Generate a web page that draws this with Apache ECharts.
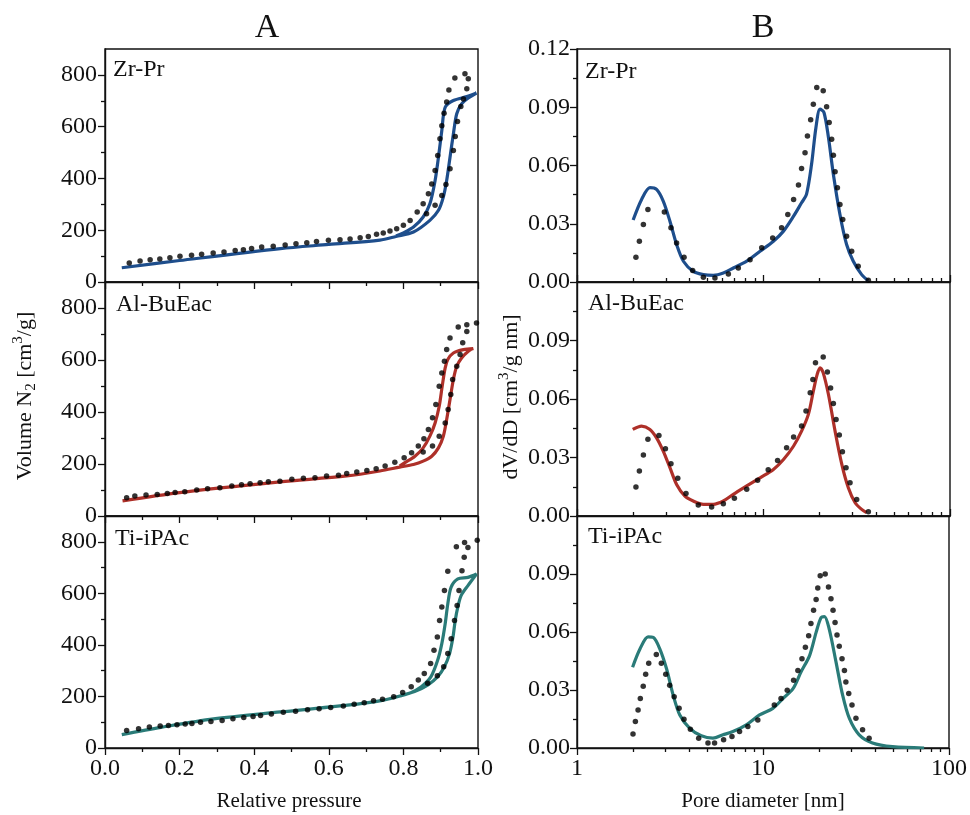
<!DOCTYPE html>
<html>
<head>
<meta charset="utf-8">
<script src="https://cdn.jsdelivr.net/npm/echarts@6/dist/echarts.min.js"></script>
<style>
  html, body { margin: 0; padding: 0; background: #ffffff; }
  #chart { width: 970px; height: 815px; }
</style>
</head>
<body>
<div id="chart"></div>
<script>
// ---- samples ----
const sampleNames = ['Zr-Pr', 'Al-BuEac', 'Ti-iPAc'];

// ---- tick values ----
const pressureTicks = [0, 0.2, 0.4, 0.6, 0.8, 1.0];
const pressureMinorTicks = [0.1, 0.3, 0.5, 0.7, 0.9];
const volumeTicks = [0, 200, 400, 600, 800];
const volumeMinorTicks = [100, 300, 500, 700];
const diameterTicks = [1, 10, 100];
const diameterMinorTicks = [2, 3, 4, 5, 6, 7, 8, 9, 20, 30, 40, 50, 60, 70, 80, 90];
const psdTicksTop = [0, 0.03, 0.06, 0.09, 0.12];
const psdTicks = [0, 0.03, 0.06, 0.09];
const psdMinorTicks = [0.015, 0.045, 0.075, 0.105];

// ---- N2 isotherms: fitted loop [relative pressure, volume cm3/g] ----
const zrPrIsoFit = [
  [0.045, 55], [0.2, 83], [0.47, 129], [0.6, 145], [0.737, 162], [0.78, 176],
  [0.827, 193], [0.871, 238], [0.894, 277], [0.907, 328], [0.916, 392], [0.925, 482],
  [0.934, 572], [0.943, 650], [0.956, 688], [0.975, 712], [0.996, 730],
  [0.97, 716], [0.934, 701], [0.912, 675], [0.903, 585], [0.894, 482], [0.885, 392],
  [0.871, 302], [0.853, 251], [0.827, 212], [0.8, 190], [0.78, 178]
];
const alBuEacIsoFit = [
  [0.047, 58], [0.2, 90], [0.469, 131], [0.648, 154], [0.737, 173], [0.79, 188],
  [0.827, 198], [0.853, 211], [0.876, 230], [0.894, 262], [0.907, 307], [0.916, 371],
  [0.925, 448], [0.934, 525], [0.943, 576], [0.956, 608], [0.974, 634], [0.987, 644],
  [0.961, 640], [0.934, 627], [0.919, 602], [0.912, 570], [0.904, 499], [0.896, 422],
  [0.885, 358], [0.871, 307], [0.853, 262], [0.831, 230], [0.804, 205], [0.79, 192]
];
const tiIPAcIsoFit = [
  [0.045, 52], [0.15, 80], [0.291, 113], [0.471, 140], [0.65, 166], [0.74, 184], [0.794, 203],
  [0.83, 219], [0.865, 244], [0.892, 277], [0.91, 315], [0.924, 367], [0.933, 431],
  [0.939, 495], [0.946, 547], [0.955, 592], [0.973, 630], [0.996, 675],
  [0.973, 662], [0.946, 656], [0.928, 624], [0.919, 559], [0.912, 482], [0.903, 405],
  [0.892, 341], [0.874, 277], [0.848, 238], [0.816, 212], [0.794, 205]
];

// ---- N2 isotherms: measured points ----
const zrPrIsoData = [
  [0.065, 73], [0.094, 81], [0.121, 86], [0.147, 89], [0.174, 94], [0.201, 99], [0.232, 103],
  [0.259, 107], [0.290, 112], [0.319, 116], [0.349, 122], [0.371, 125], [0.393, 129],
  [0.420, 135], [0.451, 138], [0.483, 143], [0.512, 148], [0.541, 152], [0.567, 156],
  [0.599, 161], [0.630, 163], [0.657, 166], [0.684, 171], [0.706, 176], [0.728, 184],
  [0.746, 189], [0.764, 197], [0.782, 206], [0.800, 219], [0.818, 238], [0.837, 270],
  [0.853, 302], [0.867, 341], [0.876, 379], [0.885, 431], [0.892, 489], [0.898, 553],
  [0.903, 604], [0.909, 652], [0.916, 695], [0.922, 742], [0.938, 788], [0.965, 804],
  [0.974, 785], [0.862, 264], [0.885, 296], [0.903, 334], [0.914, 377], [0.925, 437],
  [0.934, 508], [0.939, 562], [0.945, 620], [0.954, 678], [0.961, 707], [0.970, 746]
];
const alBuEacIsoData = [
  [0.058, 70], [0.080, 77], [0.110, 81], [0.140, 83], [0.167, 87], [0.188, 90], [0.214, 93],
  [0.246, 100], [0.275, 105], [0.308, 109], [0.340, 115], [0.366, 120], [0.389, 124],
  [0.416, 128], [0.438, 132], [0.469, 134], [0.501, 141], [0.532, 145], [0.563, 147],
  [0.594, 154], [0.626, 157], [0.648, 163], [0.675, 169], [0.702, 175], [0.727, 182],
  [0.751, 192], [0.777, 207], [0.802, 224], [0.822, 243], [0.840, 269], [0.855, 297],
  [0.867, 333], [0.878, 378], [0.887, 429], [0.896, 499], [0.903, 550], [0.910, 595],
  [0.916, 640], [0.925, 685], [0.947, 727], [0.970, 736], [0.996, 742],
  [0.853, 246], [0.878, 269], [0.896, 307], [0.912, 358], [0.920, 410], [0.927, 467],
  [0.932, 525], [0.943, 576], [0.952, 621], [0.959, 666], [0.970, 710]
];
const tiIPAcIsoData = [
  [0.058, 68], [0.090, 75], [0.119, 81], [0.148, 85], [0.170, 87], [0.193, 90], [0.215, 93],
  [0.233, 95], [0.256, 100], [0.284, 103], [0.314, 107], [0.343, 113], [0.372, 118],
  [0.397, 122], [0.417, 126], [0.446, 132], [0.478, 139], [0.511, 143], [0.543, 148],
  [0.574, 152], [0.605, 157], [0.639, 163], [0.668, 170], [0.695, 176], [0.720, 183],
  [0.744, 189], [0.774, 199], [0.798, 215], [0.821, 238], [0.840, 264], [0.856, 289],
  [0.873, 328], [0.882, 379], [0.891, 431], [0.897, 495], [0.903, 547], [0.910, 611],
  [0.919, 686], [0.942, 781], [0.964, 797], [0.973, 778], [0.998, 806],
  [0.865, 251], [0.891, 280], [0.908, 315], [0.919, 367], [0.928, 424], [0.937, 495],
  [0.944, 553], [0.949, 611], [0.957, 688], [0.963, 740]
];

// ---- pore size distributions: fitted curves [diameter nm, dV/dD] ----
const zrPrPsdFit = [
  [2.00, 0.0319], [2.22, 0.0425], [2.46, 0.0486], [2.67, 0.0477], [2.90, 0.0417],
  [3.15, 0.0313], [3.42, 0.0193], [3.72, 0.0107], [4.20, 0.0055], [4.76, 0.0038],
  [5.38, 0.0034], [6.09, 0.0046], [6.89, 0.0072], [8.13, 0.0107], [9.58, 0.0158],
  [11.3, 0.0210], [12.8, 0.0262], [14.5, 0.0339], [16.0, 0.0408], [17.0, 0.0451],
  [18.1, 0.0606], [19.1, 0.0795], [20.1, 0.0890], [21.1, 0.0873], [22.3, 0.0744],
  [23.7, 0.0554], [25.7, 0.0348], [27.9, 0.0193], [30.3, 0.0107], [33.6, 0.0038],
  [36.5, 0.0007]
];
const alBuEacPsdFit = [
  [1.99, 0.0444], [2.22, 0.0461], [2.46, 0.0444], [2.67, 0.0401], [2.90, 0.0333],
  [3.15, 0.0248], [3.42, 0.0162], [3.79, 0.0102], [4.20, 0.0077], [4.76, 0.0060],
  [5.38, 0.0060], [6.09, 0.0077], [6.89, 0.0111], [8.13, 0.0154], [9.58, 0.0196],
  [11.3, 0.0239], [12.8, 0.0290], [14.5, 0.0359], [16.0, 0.0435], [17.4, 0.0521],
  [18.5, 0.0640], [19.4, 0.0726], [20.1, 0.0760], [20.9, 0.0734], [22.3, 0.0623],
  [24.2, 0.0435], [26.3, 0.0265], [28.5, 0.0145], [31.0, 0.0068], [33.6, 0.0034],
  [35.7, 0.0017]
];
const tiIPAcPsdFit = [
  [1.99, 0.0418], [2.18, 0.0512], [2.41, 0.0575], [2.57, 0.0572], [2.79, 0.0512],
  [3.03, 0.0410], [3.29, 0.0273], [3.57, 0.0171], [4.04, 0.0102], [4.66, 0.0063],
  [5.38, 0.0051], [6.09, 0.0068], [6.89, 0.0085], [8.13, 0.0120], [9.58, 0.0171],
  [11.3, 0.0205], [12.8, 0.0256], [14.5, 0.0307], [16.0, 0.0393], [17.8, 0.0478],
  [19.3, 0.0598], [20.5, 0.0674], [21.4, 0.0680], [22.7, 0.0615], [24.7, 0.0444],
  [26.8, 0.0273], [29.1, 0.0154], [32.9, 0.0068], [38.8, 0.0026], [49.7, 0.0007],
  [73.5, 0.0000]
];

// ---- pore size distributions: measured points ----
const zrPrPsdData = [
  [2.07, 0.0127], [2.16, 0.0210], [2.27, 0.0296], [2.40, 0.0374], [2.94, 0.0360],
  [3.19, 0.0279], [3.42, 0.0201], [3.75, 0.0127], [4.17, 0.0059], [4.76, 0.0024],
  [5.49, 0.0021], [6.48, 0.0041], [7.33, 0.0072], [8.47, 0.0115], [9.78, 0.0176],
  [11.2, 0.0227], [12.5, 0.0279], [13.5, 0.0348], [14.5, 0.0425], [15.4, 0.0499],
  [16.0, 0.0584], [16.7, 0.0666], [17.2, 0.0752], [17.9, 0.0835], [18.5, 0.0916],
  [19.3, 0.1002], [20.9, 0.0985], [21.8, 0.0902], [22.5, 0.0821], [23.2, 0.0735],
  [23.7, 0.0653], [24.2, 0.0568], [24.9, 0.0486], [25.7, 0.0399], [26.6, 0.0322],
  [27.9, 0.0236], [29.7, 0.0158], [32.2, 0.0081], [36.5, 0.0009]
];
const alBuEacPsdData = [
  [2.07, 0.0149], [2.16, 0.0231], [2.27, 0.0313], [2.40, 0.0393], [2.75, 0.0413],
  [2.98, 0.0345], [3.19, 0.0268], [3.47, 0.0193], [3.84, 0.0116], [4.47, 0.0056],
  [5.27, 0.0046], [6.09, 0.0063], [6.98, 0.0091], [8.13, 0.0137], [9.30, 0.0183],
  [10.6, 0.0237], [11.9, 0.0285], [13.3, 0.0350], [14.5, 0.0405], [16.0, 0.0461],
  [16.9, 0.0538], [17.8, 0.0632], [18.4, 0.0700], [19.0, 0.0786], [20.9, 0.0815],
  [22.0, 0.0739], [22.9, 0.0657], [23.7, 0.0577], [24.5, 0.0495], [25.5, 0.0415],
  [26.5, 0.0330], [27.7, 0.0248], [29.1, 0.0171], [31.6, 0.0085], [36.5, 0.0022]
];
const tiIPAcPsdData = [
  [2.00, 0.0073], [2.06, 0.0137], [2.13, 0.0196], [2.19, 0.0256], [2.27, 0.0319],
  [2.34, 0.0381], [2.43, 0.0439], [2.67, 0.0483], [2.84, 0.0439], [3.00, 0.0381],
  [3.15, 0.0324], [3.33, 0.0265], [3.54, 0.0205], [3.76, 0.0149], [4.07, 0.0097],
  [4.51, 0.0051], [5.06, 0.0026], [5.49, 0.0026], [6.14, 0.0043], [6.81, 0.0060],
  [7.48, 0.0085], [8.29, 0.0111], [9.38, 0.0145], [11.5, 0.0222], [12.5, 0.0256],
  [13.5, 0.0299], [14.6, 0.0350], [15.4, 0.0401], [16.2, 0.0461], [16.9, 0.0521],
  [17.6, 0.0581], [18.1, 0.0644], [18.7, 0.0712], [19.3, 0.0768], [19.7, 0.0828],
  [20.3, 0.0891], [21.6, 0.0900], [22.5, 0.0833], [23.2, 0.0772], [23.8, 0.0712],
  [24.4, 0.0649], [25.0, 0.0584], [25.7, 0.0526], [26.6, 0.0461], [27.4, 0.0401],
  [27.9, 0.0342], [28.9, 0.0282], [30.1, 0.0222], [31.6, 0.0154], [34.3, 0.0094],
  [37.2, 0.0051]
];

const isoFits = [zrPrIsoFit, alBuEacIsoFit, tiIPAcIsoFit];
const isoData = [zrPrIsoData, alBuEacIsoData, tiIPAcIsoData];
const psdFits = [zrPrPsdFit, alBuEacPsdFit, tiIPAcPsdFit];
const psdData = [zrPrPsdData, alBuEacPsdData, tiIPAcPsdData];

// ---- styling / layout ----
const FONT = "'Liberation Serif', 'Times New Roman', serif";
const INK = '#111111';
const fitColors = ['#1e4e8c', '#ae3029', '#2a7b78'];
const colLeft = [105, 577];
const plotWidth = 373;
const rowTop = [49, 282, 516];
const rowHeight = [233, 234, 232];

const grid = [];
const xAxis = [];
const yAxis = [];
const series = [];

function baseAxis(gridIndex) {
  return {
    gridIndex,
    splitLine: { show: false },
    axisLine: { show: true, onZero: false, lineStyle: { color: INK, width: 1.4 } },
    axisLabel: { show: false, fontFamily: FONT, fontSize: 24, color: INK },
    axisTick: { show: true, length: 7, lineStyle: { color: INK, width: 1.3 } }
  };
}

for (let c = 0; c < 2; c++) {
  for (let r = 0; r < 3; r++) {
    const g = c * 3 + r;
    grid.push({
      left: colLeft[c], top: rowTop[r], width: plotWidth, height: rowHeight[r],
      show: true, borderColor: INK, borderWidth: 1.4, backgroundColor: 'transparent'
    });
    const bottomRow = r === 2;
    if (c === 0) {
      // relative pressure axis
      const xm = baseAxis(g);
      Object.assign(xm, { type: 'value', min: 0, max: 1, position: 'bottom' });
      xm.axisTick.customValues = pressureTicks;
      xm.axisLabel = Object.assign(xm.axisLabel, {
        show: bottomRow, customValues: pressureTicks, margin: 9,
        formatter: v => v.toFixed(1)
      });
      const xn = baseAxis(g);
      Object.assign(xn, { type: 'value', min: 0, max: 1, position: 'bottom' });
      xn.axisLine.show = false;
      xn.axisTick.customValues = pressureMinorTicks;
      xn.axisTick.length = 4;
      xAxis.push(xm, xn);

      const ym = baseAxis(g);
      Object.assign(ym, { type: 'value', min: 0, max: 900, position: 'left' });
      ym.axisTick.customValues = volumeTicks;
      ym.axisLabel = Object.assign(ym.axisLabel, {
        show: true, customValues: volumeTicks, margin: 8, formatter: v => String(v)
      });
      const yn = baseAxis(g);
      Object.assign(yn, { type: 'value', min: 0, max: 900, position: 'left' });
      yn.axisLine.show = false;
      yn.axisTick.customValues = volumeMinorTicks;
      yn.axisTick.length = 4;
      yAxis.push(ym, yn);
    } else {
      // pore diameter axis (log)
      const inward = !bottomRow;
      const xm = baseAxis(g);
      Object.assign(xm, { type: 'log', logBase: 10, min: 1, max: 100, position: 'bottom' });
      xm.axisTick.customValues = diameterTicks;
      xm.axisTick.inside = inward;
      xm.axisLabel = Object.assign(xm.axisLabel, {
        show: bottomRow, customValues: diameterTicks, margin: 9, formatter: v => String(v)
      });
      const xn = baseAxis(g);
      Object.assign(xn, { type: 'log', logBase: 10, min: 1, max: 100, position: 'bottom' });
      xn.axisLine.show = false;
      xn.axisTick.customValues = diameterMinorTicks;
      xn.axisTick.length = 4;
      xn.axisTick.inside = inward;
      xAxis.push(xm, xn);

      const ticks = r === 0 ? psdTicksTop : psdTicks;
      const ym = baseAxis(g);
      Object.assign(ym, { type: 'value', min: 0, max: 0.12, position: 'left' });
      ym.axisTick.customValues = ticks;
      ym.axisLabel = Object.assign(ym.axisLabel, {
        show: true, customValues: ticks, margin: 7, formatter: v => v.toFixed(2)
      });
      const yn = baseAxis(g);
      Object.assign(yn, { type: 'value', min: 0, max: 0.12, position: 'left' });
      yn.axisLine.show = false;
      yn.axisTick.customValues = psdMinorTicks;
      yn.axisTick.length = 4;
      yAxis.push(ym, yn);
    }

    const fit = c === 0 ? isoFits[r] : psdFits[r];
    const pts = c === 0 ? isoData[r] : psdData[r];
    series.push({
      name: sampleNames[r] + (c === 0 ? ' isotherm fit' : ' PSD fit'),
      type: 'line',
      xAxisIndex: 2 * g, yAxisIndex: 2 * g,
      data: fit,
      showSymbol: false,
      smooth: 0.3,
      lineStyle: { color: fitColors[r], width: 3.2 },
      z: 3
    });
    series.push({
      name: sampleNames[r] + (c === 0 ? ' isotherm' : ' PSD'),
      type: 'scatter',
      xAxisIndex: 2 * g, yAxisIndex: 2 * g,
      data: pts,
      symbol: 'circle',
      symbolSize: 5.5,
      itemStyle: { color: '#000000' },
      z: 4
    });
  }
}

// ---- text elements: column letters, sample names, axis titles ----
const graphic = [
  { type: 'text', x: 267, y: 28, style: { text: 'A', font: "34px " + FONT, fill: INK, align: 'center', verticalAlign: 'middle' } },
  { type: 'text', x: 763, y: 28, style: { text: 'B', font: "34px " + FONT, fill: INK, align: 'center', verticalAlign: 'middle' } },
  { type: 'text', x: 289, y: 801, style: { text: 'Relative pressure', font: "21px " + FONT, fill: INK, align: 'center', verticalAlign: 'middle' } },
  { type: 'text', x: 763, y: 801, style: { text: 'Pore diameter [nm]', font: "21px " + FONT, fill: INK, align: 'center', verticalAlign: 'middle' } },
  {
    type: 'text', x: 25, y: 396, rotation: Math.PI / 2,
    style: {
      text: '{t|Volume N}{sub|2}{t| [cm}{sup|3}{t|/g]}',
      align: 'center', verticalAlign: 'middle',
      rich: {
        t: { font: "22px " + FONT, fill: INK, lineHeight: 28, verticalAlign: 'middle' },
        sub: { font: "15px " + FONT, fill: INK, verticalAlign: 'bottom', lineHeight: 28 },
        sup: { font: "15px " + FONT, fill: INK, verticalAlign: 'top', lineHeight: 28 }
      }
    }
  },
  {
    type: 'text', x: 511, y: 397, rotation: Math.PI / 2,
    style: {
      text: '{t|dV/dD [cm}{sup|3}{t|/g nm]}',
      align: 'center', verticalAlign: 'middle',
      rich: {
        t: { font: "22px " + FONT, fill: INK, lineHeight: 28, verticalAlign: 'middle' },
        sup: { font: "15px " + FONT, fill: INK, verticalAlign: 'top', lineHeight: 28 }
      }
    }
  }
];
const panelLabelPos = [[113, 70], [116, 305], [115, 539], [585, 72], [588, 304], [588, 537]];
panelLabelPos.forEach((p, i) => {
  graphic.push({
    type: 'text', x: p[0], y: p[1],
    style: { text: sampleNames[i % 3], font: "24px " + FONT, fill: INK, align: 'left', verticalAlign: 'middle' }
  });
});

const chart = echarts.init(document.getElementById('chart'), null, { renderer: 'canvas' });
chart.setOption({
  backgroundColor: '#ffffff',
  animation: false,
  textStyle: { fontFamily: FONT },
  grid, xAxis, yAxis, series, graphic
});
</script>
</body>
</html>
